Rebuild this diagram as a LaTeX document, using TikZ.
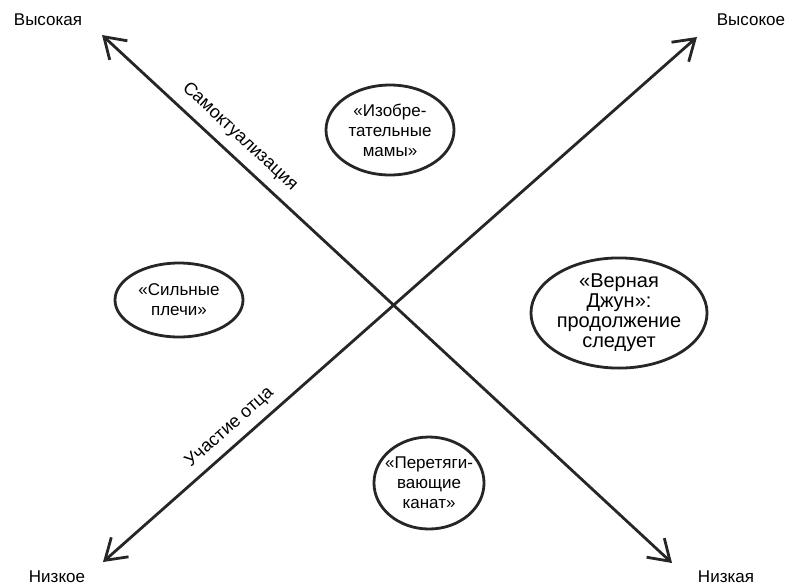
\documentclass[tikz,border=0pt]{standalone}
\usepackage{fontspec}
\setmainfont{Liberation Sans}
\usetikzlibrary{arrows.meta,shapes.geometric,calc}
\begin{document}
\begin{tikzpicture}[x=1pt,y=-1pt,
  axisline/.style={draw=black!85,line width=2.8pt,
    {Straight Barb[length=20pt,width=26pt,line width=2.8pt]}-{Straight Barb[length=20pt,width=26pt,line width=2.8pt]}},
  oval/.style={ellipse,draw=black!85,line width=2.8pt,inner sep=0pt,align=center,
    font=\fontsize{17}{20}\selectfont},
  corner/.style={font=\fontsize{17}{20}\selectfont,inner sep=0pt},
  axislabel/.style={font=\fontsize{18}{20}\selectfont,inner sep=0pt}]
\useasboundingbox (0,0) rectangle (791,587);

% arrow end points
\coordinate (tl) at (102,35);
\coordinate (br) at (672,563);
\coordinate (bl) at (103,562);
\coordinate (tr) at (697,37);

% the two axes
\draw[axisline] (tl) -- (br);
\draw[axisline] (bl) -- (tr);

% axis labels along the lines
\coordinate (ma) at ($(tl)!0.219!(br)$);
\node[axislabel,rotate=-42.8] (selfact) at ($(ma)!19pt!90:(br)$) {Самоктуализация};
\coordinate (mb) at ($(bl)!0.232!(tr)$);
\node[axislabel,rotate=41.5] (father) at ($(mb)!17pt!90:(tr)$) {Участие отца};

% corner labels
\node[corner] (hiA) at (48,20) {Высокая};
\node[corner] (hiB) at (751,20) {Высокое};
\node[corner] (loB) at (57,577) {Низкое};
\node[corner] (loA) at (726,577) {Низкая};

% quadrant ovals
\node[oval,minimum width=128pt,minimum height=90pt] (top) at (390,130)
  {«Изобре-\\тательные\\мамы»};
\node[oval,minimum width=128pt,minimum height=74pt] (left) at (179,300)
  {«Сильные\\плечи»};
\node[oval,minimum width=175pt,minimum height=97pt,font=\fontsize{20}{20}\selectfont] (right) at (619,313)
  {«Верная\\Джун»:\\продолжение\\следует};
\node[oval,inner sep=-5pt,minimum width=100pt,minimum height=92pt] (bottom) at (429,483)
  {«Перетяги-\\вающие\\канат»};
\end{tikzpicture}
\end{document}
